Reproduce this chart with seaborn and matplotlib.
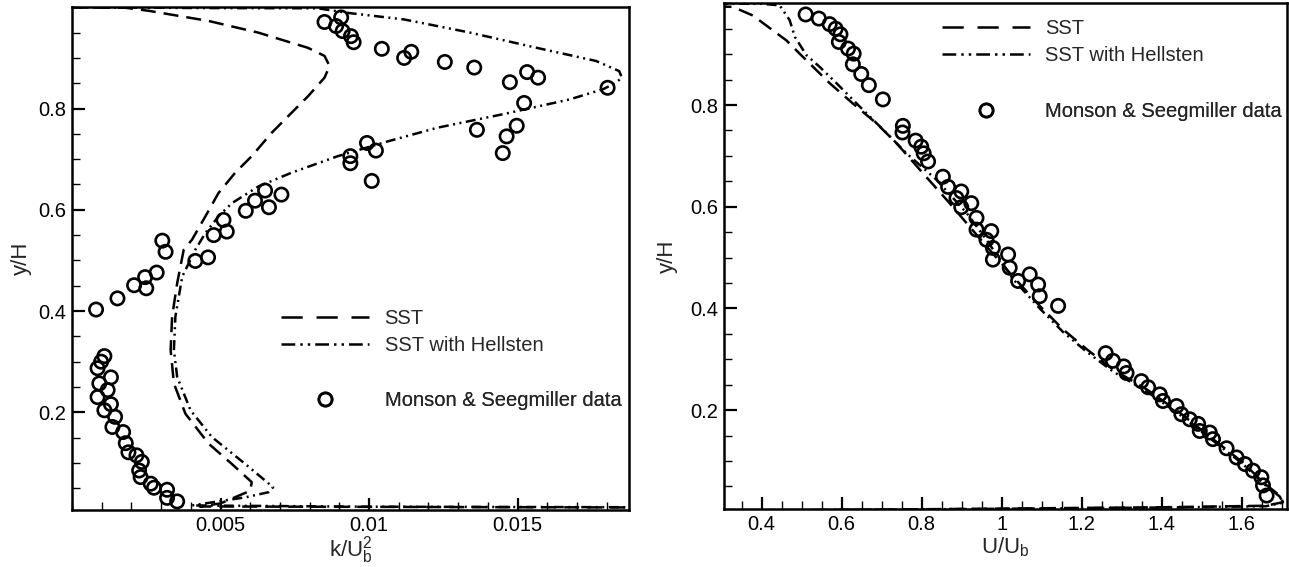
import matplotlib
matplotlib.use('Agg')
import matplotlib.pyplot as plt
from matplotlib.lines import Line2D
from matplotlib.ticker import MultipleLocator
import pandas as pd
import seaborn as sns

# ---- left panel: turbulent kinetic energy k/Ub^2 vs y/H ----
k_sst = [0.0, 0.00181, 0.00259, 0.00460, 0.00627, 0.00794, 0.00850, 0.00867, 0.00850,
         0.00794, 0.00738, 0.00672, 0.00605, 0.00549, 0.00493, 0.00449, 0.00404, 0.00376,
         0.00354, 0.00337, 0.00332, 0.00343, 0.00382, 0.00460, 0.00538, 0.00605, 0.00600,
         0.00500, 0.00430, 0.0188]
y_k_sst = [1.0, 0.999, 0.993, 0.973, 0.950, 0.920, 0.904, 0.884, 0.861,
           0.824, 0.791, 0.752, 0.706, 0.673, 0.633, 0.587, 0.541, 0.521,
           0.455, 0.389, 0.323, 0.257, 0.197, 0.138, 0.098, 0.062, 0.045,
           0.020, 0.014, 0.012]

k_hel = [0.0, 0.0045, 0.00828, 0.00928, 0.01118, 0.01340, 0.01564, 0.01764, 0.01842,
         0.01851, 0.01831, 0.01787, 0.01675, 0.01452, 0.01229, 0.01062, 0.00895, 0.00738,
         0.00627, 0.00538, 0.00493, 0.00449, 0.00415, 0.00371, 0.00348, 0.00343, 0.00354,
         0.00399, 0.00471, 0.00583, 0.00677, 0.00661, 0.00583, 0.00493, 0.00404, 0.0100, 0.0188]
y_k_hel = [1.0, 0.9985, 0.998, 0.989, 0.976, 0.950, 0.920, 0.894, 0.874,
           0.861, 0.851, 0.838, 0.818, 0.789, 0.762, 0.735, 0.706, 0.673,
           0.646, 0.613, 0.587, 0.554, 0.521, 0.468, 0.389, 0.323, 0.270,
           0.204, 0.151, 0.098, 0.052, 0.042, 0.032, 0.024, 0.016, 0.0135, 0.0125]

k_exp = [0.00109, 0.00098, 0.00086, 0.00131, 0.00092, 0.00120, 0.00086, 0.00131, 0.00109,
         0.00145, 0.00136, 0.00172, 0.00181, 0.00190, 0.00217, 0.00235, 0.00226, 0.00231,
         0.00265, 0.00276, 0.00320, 0.00320, 0.00354,
         0.00081, 0.00153, 0.00209, 0.00250, 0.00246, 0.00285, 0.00304, 0.00315, 0.00415,
         0.00458, 0.00477, 0.00510, 0.00521, 0.00585, 0.00616, 0.00650, 0.00663, 0.00705,
         0.00937, 0.00937, 0.00993, 0.01023, 0.01009, 0.01363, 0.01450, 0.01463, 0.01497,
         0.01522, 0.01803, 0.01474, 0.01532, 0.01569, 0.01354, 0.01255, 0.01142, 0.01118,
         0.01043, 0.00948, 0.00939, 0.00911, 0.00889, 0.00906, 0.00850]
y_k_exp = [0.311, 0.300, 0.287, 0.269, 0.257, 0.244, 0.230, 0.216, 0.204,
           0.191, 0.171, 0.161, 0.139, 0.121, 0.115, 0.102, 0.085, 0.072,
           0.059, 0.051, 0.047, 0.031, 0.024,
           0.403, 0.425, 0.451, 0.445, 0.467, 0.476, 0.539, 0.517, 0.499,
           0.506, 0.550, 0.580, 0.557, 0.598, 0.618, 0.638, 0.605, 0.630,
           0.706, 0.692, 0.732, 0.717, 0.657, 0.758, 0.712, 0.745, 0.766,
           0.811, 0.841, 0.852, 0.872, 0.861, 0.881, 0.892, 0.912, 0.900,
           0.918, 0.931, 0.943, 0.953, 0.963, 0.980, 0.971]

# ---- right panel: mean velocity U/Ub vs y/H ----
u_sst = [0.0, 0.328, 0.378, 0.462, 0.495, 0.570, 0.628, 0.687, 0.737, 0.803, 0.862,
         0.912, 0.962, 1.028, 1.095, 1.153, 1.212, 1.278, 1.362, 1.445, 1.528, 1.603,
         1.653, 1.695, 1.703, 1.660, 1.400, 0.0]
y_u_sst = [1.0, 0.993, 0.976, 0.927, 0.901, 0.843, 0.803, 0.764, 0.725, 0.666, 0.614,
           0.568, 0.522, 0.463, 0.405, 0.359, 0.320, 0.280, 0.241, 0.195, 0.143, 0.097,
           0.058, 0.032, 0.019, 0.012, 0.009, 0.0]

u_hel = [0.0, 0.400, 0.445, 0.470, 0.483, 0.512, 0.545, 0.587, 0.645, 0.712, 0.762,
         0.837, 0.912, 0.962, 1.028, 1.095, 1.153, 1.212, 1.278, 1.362, 1.445, 1.528,
         1.603, 1.653, 1.695, 1.703, 1.660, 1.400, 0.0]
y_u_hel = [1.0, 0.999, 0.996, 0.967, 0.934, 0.898, 0.875, 0.843, 0.797, 0.745, 0.705,
           0.653, 0.588, 0.535, 0.458, 0.400, 0.354, 0.315, 0.276, 0.237, 0.191, 0.140,
           0.094, 0.056, 0.030, 0.018, 0.011, 0.0085, 0.0]

u_exp = [0.510, 0.543, 0.570, 0.585, 0.597, 0.593, 0.616, 0.630, 0.628, 0.649, 0.668,
         0.703, 0.753, 0.752, 0.785, 0.799, 0.805, 0.816, 0.853, 0.866, 0.899, 0.887,
         0.924, 0.899, 0.937, 0.937, 0.974, 0.962, 0.978, 1.016, 0.978, 1.020, 1.041,
         1.070, 1.091, 1.095, 1.141,
         1.260, 1.278, 1.305, 1.312, 1.349, 1.366, 1.395, 1.403, 1.437, 1.449, 1.470,
         1.491, 1.495, 1.520, 1.528, 1.562, 1.587, 1.608, 1.628, 1.649, 1.653, 1.662]
y_u_exp = [0.978, 0.970, 0.959, 0.950, 0.939, 0.924, 0.911, 0.901, 0.880, 0.861, 0.839,
           0.811, 0.759, 0.746, 0.730, 0.718, 0.705, 0.689, 0.659, 0.639, 0.630, 0.617,
           0.607, 0.599, 0.578, 0.555, 0.552, 0.535, 0.519, 0.506, 0.496, 0.480, 0.454,
           0.467, 0.447, 0.424, 0.405,
           0.312, 0.297, 0.286, 0.273, 0.257, 0.245, 0.231, 0.218, 0.208, 0.192, 0.182,
           0.173, 0.159, 0.156, 0.143, 0.125, 0.107, 0.094, 0.081, 0.068, 0.052, 0.032]

# tick labels
k_ticks = [0.005, 0.01, 0.015]
k_ticklabels = ['0.005', '0.01', '0.015']
u_ticks = [0.4, 0.6, 0.8, 1.0, 1.2, 1.4, 1.6]
u_ticklabels = ['0.4', '0.6', '0.8', '1', '1.2', '1.4', '1.6']
y_ticks = [0.2, 0.4, 0.6, 0.8]
y_ticklabels = ['0.2', '0.4', '0.6', '0.8']

labels = ['SST', 'SST with Hellsten', 'Monson & Seegmiller data']

sns.set_style('ticks')
plt.rcParams['font.family'] = ['Liberation Sans', 'DejaVu Sans']
plt.rcParams['mathtext.fontset'] = 'custom'
plt.rcParams['mathtext.rm'] = 'Liberation Sans'
plt.rcParams['mathtext.it'] = 'Liberation Sans:italic'

LW = 1.8
DASH = (0, (6.0, 3.2))
DASHDOT = (0, (4.0, 1.8, 0.8, 1.8, 0.8, 1.8))
FS = 14.5

fig = plt.figure(figsize=(12.89, 5.67), dpi=100)
ax1 = fig.add_axes([0.05586, 0.10053, 0.43212, 0.8866])
ax2 = fig.add_axes([0.56168, 0.10176, 0.43677, 0.89242])


def draw(ax, x_sst, y_sst, x_hel, y_hel, x_exp, y_exp):
    sns.lineplot(x=x_sst, y=y_sst, sort=False, estimator=None, ax=ax,
                 color='k', lw=LW, linestyle=DASH)
    sns.lineplot(x=x_hel, y=y_hel, sort=False, estimator=None, ax=ax,
                 color='k', lw=LW, linestyle=DASHDOT)
    sns.scatterplot(x=x_exp, y=y_exp, ax=ax, marker='o', s=92,
                    facecolor='none', edgecolor='k', linewidth=1.9, zorder=3)


def style(ax, xlim, ylim, xt, xtl, xminor):
    ax.set_xlim(*xlim)
    ax.set_ylim(*ylim)
    ax.set_xticks(xt)
    ax.set_xticklabels(xtl)
    ax.set_yticks(y_ticks)
    ax.set_yticklabels(y_ticklabels)
    ax.xaxis.set_minor_locator(MultipleLocator(xminor))
    ax.yaxis.set_minor_locator(MultipleLocator(0.05))
    ax.tick_params(which='both', direction='in', top=False, right=False,
                   labelsize=FS, colors='k')
    ax.tick_params(which='major', length=9, width=1.6, pad=4)
    ax.tick_params(which='minor', length=6, width=1.0)
    for s in ax.spines.values():
        s.set_visible(True)
        s.set_linewidth(1.8)
        s.set_color('k')


def add_key(ax, handle, label, x, y):
    leg = ax.legend([handle], [label], loc='center left', bbox_to_anchor=(x, y),
                    frameon=False, borderpad=0, borderaxespad=0,
                    handlelength=4.4, handletextpad=0.75, fontsize=FS)
    ax.add_artist(leg)


draw(ax1, k_sst, y_k_sst, k_hel, y_k_hel, k_exp, y_k_exp)
draw(ax2, u_sst, y_u_sst, u_hel, y_u_hel, u_exp, y_u_exp)

style(ax1, (0, 0.01875), (0.007, 1.0), k_ticks, k_ticklabels, 0.001)
style(ax2, (0.306, 1.713), (0.005, 1.0), u_ticks, u_ticklabels, 0.05)

ax1.set_xlabel(r'k/U$_\mathrm{b}^\mathrm{2}$', fontsize=16, labelpad=0)
ax1.set_ylabel('y/H', fontsize=16, labelpad=5)
ax2.set_xlabel(r'U/U$_\mathrm{b}$', fontsize=16, labelpad=1)
ax2.set_ylabel('y/H', fontsize=16, labelpad=9)

h_sst = Line2D([], [], color='k', lw=LW, linestyle=(0, (8.5, 5.5)))
h_hel = Line2D([], [], color='k', lw=LW, linestyle=(0, (5.5, 2.0, 1.0, 2.0, 1.0, 2.0)))
h_exp = Line2D([], [], color='k', ls='none', marker='o', ms=9.5, mfc='none', mew=1.9)

for ax, x0, rows in [(ax1, 0.375, (0.381, 0.328, 0.217)),
                     (ax2, 0.3867, (0.9506, 0.8959, 0.7858))]:
    add_key(ax, h_sst, labels[0], x0, rows[0])
    add_key(ax, h_hel, labels[1], x0, rows[1])
    add_key(ax, h_exp, labels[2], x0, rows[2])

fig.savefig('out.png', dpi=100)
